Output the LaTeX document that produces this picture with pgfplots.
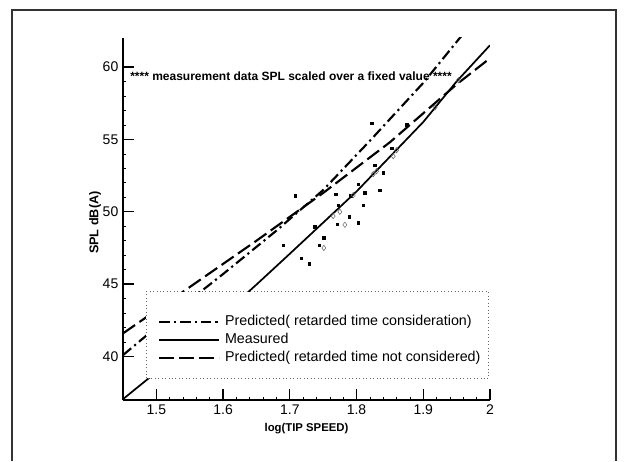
\documentclass[border=0pt]{standalone}
\usepackage{fontspec}
\setmainfont{Liberation Sans}
\usepackage{pgfplots}
\pgfplotsset{compat=1.18}

\begin{document}
\begin{tikzpicture}
% page = 624 x 461 px at 0.75pt per px
\useasboundingbox (0,0) rectangle (468pt,345.75pt);
\draw[black!80, line width=0.8pt] (9pt,0) -- (9pt,338.25pt) -- (462pt,338.25pt) -- (462pt,0);

\begin{axis}[
  at={(92.25pt,45.75pt)}, anchor=south west,
  scale only axis, width=275.25pt, height=271.5pt,
  xmin=1.45, xmax=2, ymin=37, ymax=62,
  axis x line=bottom, axis y line=left,
  axis line style={-, line width=1.5pt},
  xtick={1.5,1.6,...,2.0}, ytick={40,45,...,60},
  minor x tick num=4, minor y tick num=4,
  tick align=inside,
  major tick length=8pt, minor tick length=2.5pt,
  every tick/.style={black, line width=1pt},
  minor tick style={line width=0.5pt},
  /pgf/number format/assume math mode=true,
  ticklabel style={font=\fontsize{10.5}{12}\selectfont},
  xticklabel style={/pgf/number format/.cd, fixed, precision=1},
  xlabel={log(TIP SPEED)}, ylabel={SPL dB(A)},
  xlabel style={font=\bfseries\fontsize{8.5}{10}\selectfont, at={(axis description cs:0.5,-0.078)}, anchor=center},
  ylabel style={font=\bfseries\fontsize{9.5}{11}\selectfont, at={(axis description cs:-0.076,0.49)}, anchor=center},
  clip=true,
  legend cell align=left,
  legend style={at={(rel axis cs:0.095,0.241)}, anchor=north west,
    draw=none, fill=none, inner sep=0pt,
    font=\fontsize{10.7}{12}\selectfont,
    nodes={text height=8.2pt, text depth=2.7pt, inner ysep=1.25pt, inner xsep=3.6pt}},
  legend image code/.code={\draw (0pt,0pt) -- (45pt,0pt);},
]
% scattered measurement points (filled)
\addplot[only marks, mark=square*, mark size=0.95pt, black, forget plot] coordinates {
  (1.7085,51.1) (1.69,47.7) (1.7175,46.8) (1.729,46.4) (1.7375,48.97)
  (1.744,47.7) (1.751,48.2) (1.769,51.2) (1.771,49.15) (1.7725,50.46)
  (1.789,49.66) (1.791,51.1) (1.8025,51.9) (1.8025,49.24) (1.81,50.46)
  (1.8125,51.3) (1.8225,56.1) (1.8275,53.2) (1.835,51.5) (1.84,52.7)
  (1.8525,54.4) (1.875,56.0)
};
% scaled measurement points (open)
\addplot[only marks, mark=diamond, mark size=2pt, black!60, line width=0.4pt, forget plot] coordinates {
  (1.751,47.5) (1.765,49.7) (1.775,50.0) (1.7825,49.1) (1.795,51.15)
  (1.825,52.6) (1.83,52.8) (1.855,53.84) (1.86,54.25) (1.9175,57.2) (1.9525,59.08)
};
\addplot[black, line width=1.6pt, dash pattern=on 8pt off 3pt on 1.6pt off 3pt] coordinates {
  (1.45,40.1) (1.52,42.8) (1.6,45.7) (1.68,48.7) (1.75,51.5) (1.82,54.9) (1.9,58.9) (1.96,62.3)
};
\addlegendentry{Predicted( retarded time consideration)}
\addplot[black, solid, line width=1.3pt] coordinates {
  (1.45,37.06) (1.5,38.93) (1.55,40.9) (1.6,42.9) (1.65,44.97) (1.7,47.1)
  (1.75,49.25) (1.8,51.4) (1.85,53.8) (1.9,56.2) (1.95,59.0) (2.0,61.5)
};
\addlegendentry{Measured}
\addplot[black, line width=1.6pt, dash pattern=on 11pt off 4pt] coordinates {
  (1.45,41.6) (1.55,44.8) (1.65,48.0) (1.75,51.3) (1.85,54.8) (1.95,58.8) (2.0,60.6)
};
\addlegendentry{Predicted( retarded time not considered)}

% legend frame, drawn over the curves
\filldraw[fill=white, draw=black!60, dotted, line width=0.6pt]
  (rel axis cs:0.0627,0.06) rectangle (rel axis cs:0.997,0.299);

\node[anchor=west, font=\bfseries\fontsize{9}{11}\selectfont, inner sep=0pt] at (axis cs:1.4605,59.36)
  {**** measurement data SPL scaled over a fixed value ****};
\end{axis}
\end{tikzpicture}
\end{document}
